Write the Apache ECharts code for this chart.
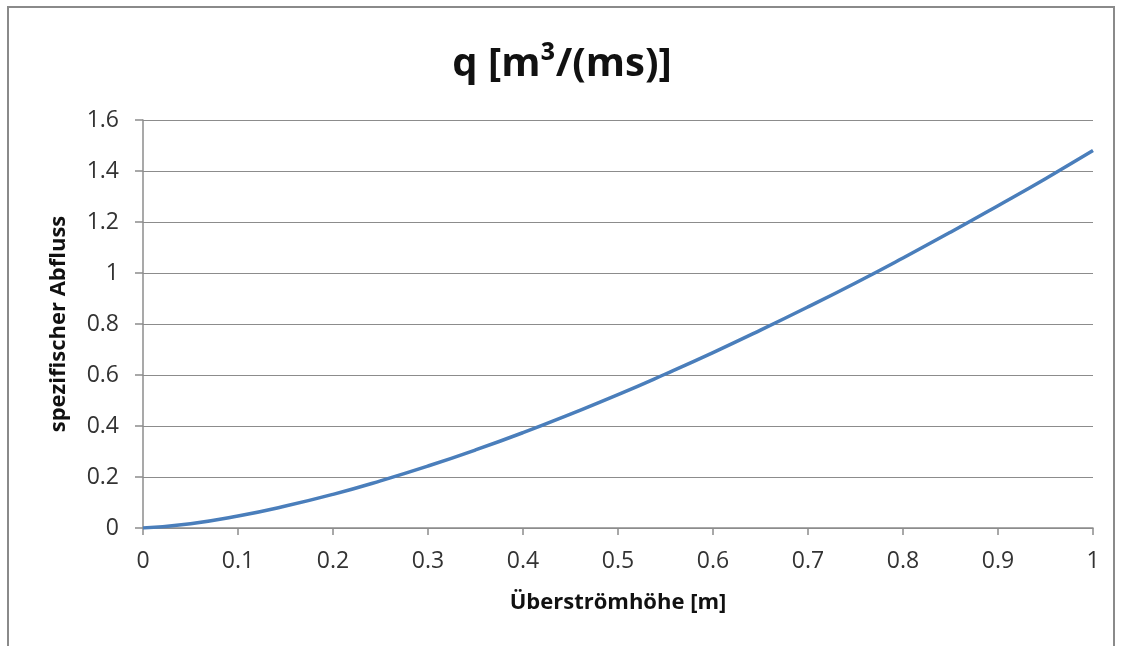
<!DOCTYPE html>
<html>
<head>
<meta charset="utf-8">
<script src="https://cdn.jsdelivr.net/npm/echarts@6/dist/echarts.min.js"></script>
<style>
html,body{margin:0;padding:0;background:#fff;}
#c{width:1124px;height:646px;}
</style>
</head>
<body>
<div id="c"></div>
<script>
var heights = [0, 0.05, 0.1, 0.15, 0.2, 0.25, 0.3, 0.35, 0.4, 0.45, 0.5, 0.55, 0.6, 0.65, 0.7, 0.75, 0.8, 0.85, 0.9, 0.95, 1.0];
var discharge = [0, 0.017, 0.047, 0.086, 0.132, 0.185, 0.243, 0.306, 0.374, 0.447, 0.523, 0.604, 0.688, 0.776, 0.867, 0.961, 1.059, 1.160, 1.264, 1.370, 1.48];
var titleText = 'q [m³/(ms)]';
var xName = 'Überströmhöhe [m]';
var yName = 'spezifischer Abfluss';

var points = heights.map(function (h, i) { return [h, discharge[i]]; });

var chart = echarts.init(document.getElementById('c'));
var fontFam = '"Open Sans", "Noto Sans", sans-serif';
chart.setOption({
  backgroundColor: '#ffffff',
  animation: false,
  graphic: [{
    type: 'rect',
    shape: { x: 8, y: 7, width: 1106, height: 700 },
    style: { fill: 'none', stroke: '#8a8a8a', lineWidth: 2 },
    silent: true
  }],
  title: {
    text: titleText,
    left: 'center',
    top: 40,
    textStyle: { fontFamily: fontFam, fontWeight: 'bold', fontSize: 40, color: '#111' }
  },
  grid: { left: 143, right: 31, top: 120, bottom: 118, containLabel: false },
  xAxis: {
    type: 'value',
    min: 0, max: 1, interval: 0.1,
    name: xName,
    nameLocation: 'middle',
    nameGap: 64,
    nameTextStyle: { fontFamily: fontFam, fontWeight: 'bold', fontSize: 22, color: '#111' },
    axisLine: { show: true, lineStyle: { color: '#8c8c8c', width: 1.5 } },
    axisTick: { show: true, inside: false, length: 7, lineStyle: { color: '#8c8c8c', width: 1.5 } },
    axisLabel: { margin: 22, fontFamily: fontFam, fontSize: 23, color: '#333' },
    splitLine: { show: false }
  },
  yAxis: {
    type: 'value',
    min: 0, max: 1.6, interval: 0.2,
    name: yName,
    nameLocation: 'middle',
    nameGap: 73,
    nameTextStyle: { fontFamily: fontFam, fontWeight: 'bold', fontSize: 22, color: '#111' },
    axisLine: { show: true, lineStyle: { color: '#8c8c8c', width: 1.5 } },
    axisTick: { show: true, inside: false, length: 8, lineStyle: { color: '#8c8c8c', width: 1.5 } },
    axisLabel: {
      margin: 24, fontFamily: fontFam, fontSize: 23, color: '#333',
      formatter: function (v) { return String(Math.round(v * 10) / 10); }
    },
    splitLine: { show: true, lineStyle: { color: '#8c8c8c', width: 1.2 } }
  },
  series: [{
    type: 'line',
    data: points,
    smooth: true,
    showSymbol: false,
    lineStyle: { color: '#4a7ebb', width: 3.5 },
    itemStyle: { color: '#4a7ebb' }
  }]
});
</script>
</body>
</html>
